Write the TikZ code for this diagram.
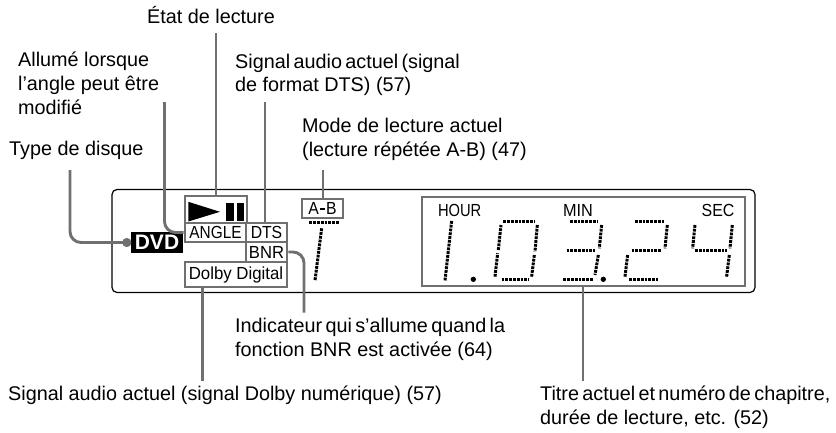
\documentclass[tikz,border=0pt]{standalone}
\usepackage{fontspec}
\setmainfont{Liberation Sans}
\usetikzlibrary{calc}
\definecolor{gline}{HTML}{707070}
\newcommand{\tightsp}{\spaceskip=.17em\relax}
\tikzset{
  lab/.style={anchor=base west,inner sep=0pt,font=\fontsize{19.8}{24}\selectfont},
  box/.style={draw=gline,line width=2.8pt,inner sep=0pt,fill=white,font=\fontsize{17.5}{18}\selectfont},
  conn/.style={draw=gline,line width=2.9pt},
  seg/.style={draw=black,line width=3pt,dash pattern=on 2.8pt off 1pt},
  disp/.style={draw=black,line width=1.2pt,rounded corners=5pt},
  mini/.style={anchor=base,inner sep=0pt,font=\fontsize{17.5}{18}\selectfont},
  roundc/.style={rounded corners=11pt}
}
\begin{document}
\begin{tikzpicture}[x=1pt,y=-1pt]
\useasboundingbox (0,0) rectangle (836,432);
% labels
\node[lab] (letat) at (147,23) {État de lecture};
\node[lab] (lall1) at (18,66) {Allumé lorsque};
\node[lab] (lall2) at (18,90) {l’angle peut être};
\node[lab] (lall3) at (18,114) {modifié};
\node[lab] (lsig1) at (235,68) {\tightsp Signal audio actuel (signal};
\node[lab] (lsig2) at (235,91) {de format DTS) (57)};
\node[lab] (lmod1) at (302,132.7) {Mode de lecture actuel};
\node[lab] (lmod2) at (302,156.7) {(lecture répétée A-B) (47)};
\node[lab] (ltyp) at (9,155) {Type de disque};
\node[lab] (lind1) at (235,332.7) {\tightsp Indicateur qui s’allume quand la};
\node[lab] (lind2) at (235,356.7) {fonction BNR est activée (64)};
\node[lab] (ldol) at (8,400) {Signal audio actuel (signal Dolby numérique) (57)};
\node[lab] (ltit1) at (540,400) {\tightsp Titre actuel et numéro de chapitre,};
\node[lab] (ltit2) at (540,424) {durée de lecture, etc. (52)};
% display frame
\node[disp,minimum width=643pt,minimum height=103pt,inner sep=0pt] (frame) at (433.5,241) {};
% boxes
\node[box,minimum width=62pt,minimum height=27pt] (play) at (216,209.5) {};
\node[box,minimum width=61pt,minimum height=19pt] (angle) at (215.5,232.5) {\scalebox{.88}[1]{ANGLE}};
\node[box,minimum width=41pt,minimum height=19pt] (dts) at (266.5,232.5) {\scalebox{.9}[1]{DTS}};
\node[box,minimum width=41pt,minimum height=20pt] (bnr) at (266.5,252) {\scalebox{.95}[1]{BNR}};
\node[box,minimum width=102pt,minimum height=25pt] (dolby) at (236,274.5) {\scalebox{.96}[1]{Dolby Digital}};
\node[box,minimum width=41pt,minimum height=19pt] (ab) at (322.5,208.5) {\scalebox{.9}[1]{A}\hspace{1pt}\rule[5pt]{5pt}{1.4pt}\hspace{1pt}\scalebox{.9}[1]{B}};
\node[box,minimum width=323pt,minimum height=89pt,fill=none] (time) at (583.5,241.5) {};
\node[fill=black,text=white,inner sep=0pt,minimum width=52pt,minimum height=21pt,font=\fontsize{21}{22}\bfseries\selectfont] (dvd) at (157,242.5) {DVD};
% free ends
\coordinate (fdvd) at (70,170);
\coordinate (fang) at (164.5,102);
\coordinate (fplay) at (216,33);
\coordinate (fdts) at (265,102);
\coordinate (fab) at (323,170);
\coordinate (fbnr) at (304,312.7);
\coordinate (fdol) at (202.7,381);
\coordinate (ftim) at (583,381);
% connectors
\draw[conn,roundc] (fdvd) -- (fdvd |- dvd.west) -- (dvd.west);
\fill[gline] ($(dvd.west)+(-4,0)$) circle[radius=4.6pt];
\draw[conn,roundc] (fang) -- (fang |- angle.west) -- (angle.west);
\draw[conn] (fplay) -- (fplay |- play.north);
\draw[conn] (fdts) -- (fdts |- dts.north);
\draw[conn] (fab) -- (fab |- ab.north);
\draw[conn,roundc] (bnr.east) -- (bnr.east -| fbnr) -- (fbnr);
\draw[conn] (fdol |- dolby.south) -- (fdol);
\draw[conn] (ftim |- time.south) -- (ftim);
% play / pause symbols
\fill[black] (188.3,201.8) -- (220,211.8) -- (188.3,221.5) -- cycle;
\fill[black] (226,202.7) rectangle (234,221);
\fill[black] (236.7,202.7) rectangle (244.3,221);
% time labels
\node[mini] (thour) at (459.7,216) {\scalebox{.84}[1]{HOUR}};
\node[mini] (tmin) at (578,216) {\scalebox{.93}[1]{MIN}};
\node[mini] (tsec) at (718,216) {\scalebox{.91}[1]{SEC}};
% A-B segment digit
\begin{scope}[shift={(100,120)},x=0.3333pt,y=-0.3333pt]
  \draw[seg] (628,308) -- (718,308);
  \draw[seg] (665,325) -- (645,482);
\end{scope}
% time digits
\begin{scope}[shift={(400,120)},x=0.3333pt,y=-0.3333pt]
  \draw[seg] (155,303) -- (135,482);
  \fill (220,478) circle[radius=8];
  \draw[seg] (310,305) -- (405,305);
  \draw[seg] (412,315) -- (405,395);
  \draw[seg] (403,405) -- (395,470);
  \draw[seg] (305,478) -- (385,478);
  \draw[seg] (285,470) -- (293,400);
  \draw[seg] (295,390) -- (303,315);
  \draw[seg] (510,305) -- (595,305);
  \draw[seg] (605,315) -- (598,385);
  \draw[seg] (500,393) -- (585,393);
  \draw[seg] (595,405) -- (585,465);
  \draw[seg] (490,480) -- (580,480);
  \fill (610,478) circle[radius=8];
  \draw[seg] (705,305) -- (795,305);
  \draw[seg] (802,315) -- (795,385);
  \draw[seg] (695,393) -- (785,393);
  \draw[seg] (683,405) -- (675,470);
  \draw[seg] (688,478) -- (775,478);
  \draw[seg] (885,315) -- (878,385);
  \draw[seg] (885,393) -- (980,393);
  \draw[seg] (997,315) -- (990,385);
  \draw[seg] (988,405) -- (980,470);
\end{scope}
\end{tikzpicture}
\end{document}
